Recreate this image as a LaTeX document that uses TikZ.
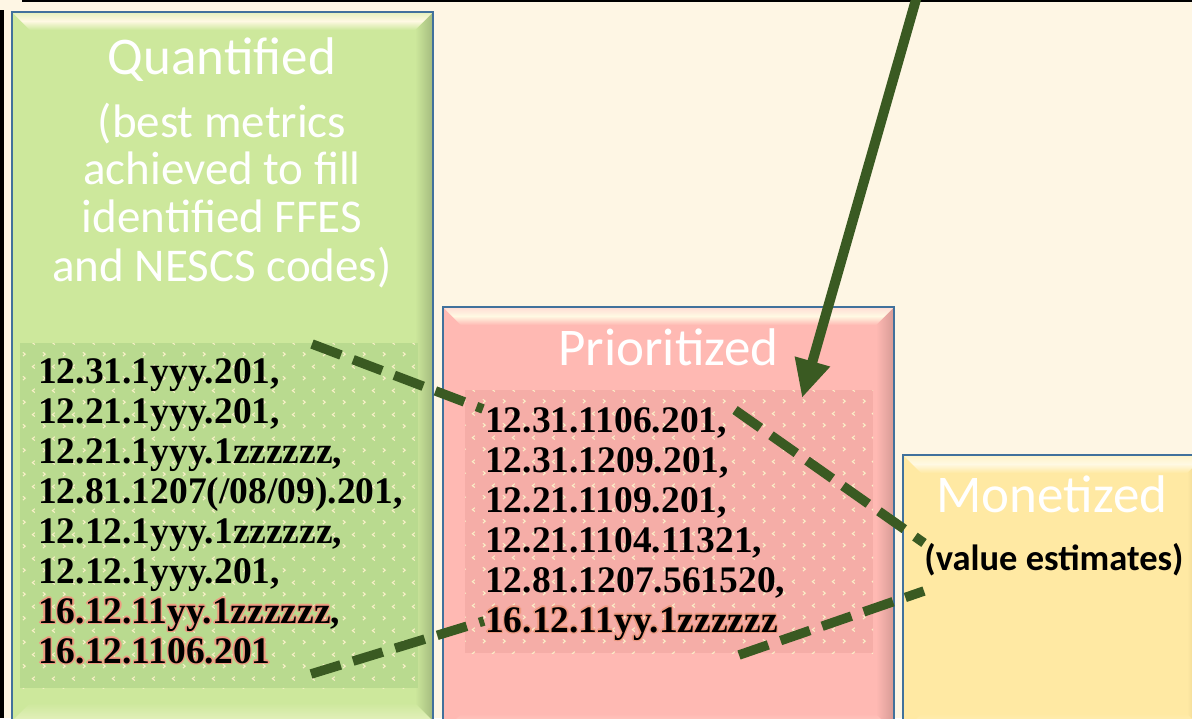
\documentclass[tikz,border=0pt]{standalone}
\usepackage{fontspec}
\setmainfont{Liberation Serif}
\newfontfamily\calfont{Carlito}
\usetikzlibrary{arrows.meta,patterns}

\definecolor{paper}{HTML}{FEF6E4}
\definecolor{frameblue}{HTML}{41719C}
\definecolor{leaf}{HTML}{3A5A22}
\definecolor{hilite}{HTML}{FFF9E3}
\definecolor{greenbody}{HTML}{CDE89C}
\definecolor{greendark}{HTML}{A3BA7E}
\definecolor{greentop}{HTML}{E4F0BC}
\definecolor{greeninner}{HTML}{B9DA8F}
\definecolor{pinkbody}{HTML}{FFB9B3}
\definecolor{pinkdark}{HTML}{D69A95}
\definecolor{pinktop}{HTML}{FFDCD4}
\definecolor{pinkinner}{HTML}{F5ADA7}
\definecolor{yellowbody}{HTML}{FFE9A3}
\definecolor{yellowdark}{HTML}{DCC68A}
\definecolor{yellowtop}{HTML}{FFF3C8}
\definecolor{dotcream}{HTML}{FAF0C8}
\definecolor{glowc}{HTML}{EE9A80}

% small chevron texture used on the code panels
\pgfdeclarepatternformonly{chevrons}{\pgfqpoint{0pt}{0pt}}{\pgfqpoint{20pt}{24pt}}{\pgfqpoint{20pt}{24pt}}{%
  \pgfsetlinewidth{1.1pt}%
  \pgfpathmoveto{\pgfqpoint{3pt}{3pt}}\pgfpathlineto{\pgfqpoint{5.5pt}{5pt}}\pgfpathlineto{\pgfqpoint{3pt}{7pt}}%
  \pgfpathmoveto{\pgfqpoint{15.5pt}{15pt}}\pgfpathlineto{\pgfqpoint{13pt}{17pt}}\pgfpathlineto{\pgfqpoint{15.5pt}{19pt}}%
  \pgfusepath{stroke}}

% text with a soft coloured halo
\newcommand\glowtext[1]{\leavevmode\rlap{\color{glowc}%
  \rlap{\kern1.3pt#1}\rlap{\kern-1.3pt#1}\rlap{\raisebox{1.3pt}{#1}}\rlap{\raisebox{-1.3pt}{#1}}%
  \rlap{\kern1pt\raisebox{1pt}{#1}}\rlap{\kern-1pt\raisebox{1pt}{#1}}%
  \rlap{\kern1pt\raisebox{-1pt}{#1}}\rlap{\kern-1pt\raisebox{-1pt}{#1}}}#1}

% bevelled panel: x1 y1 x2 y2 body dark top
\newcommand\panelbox[7]{%
  \fill[#5] (#1,#2) rectangle (#3,#4);
  \shade[left color=#5, right color=#6] (#3,#2) -- (#3,#4) -- ({#3-18},{#4-18}) -- ({#3-18},{#2+18}) -- cycle;
  \shade[top color=#7, bottom color=#5, middle color=hilite] (#1,#2) -- (#3,#2) -- ({#3-18},{#2+18}) -- ({#1+18},{#2+18}) -- cycle;
  \shade[top color=#5, bottom color=#7] ({#1+18},{#4-18}) -- ({#3-18},{#4-18}) -- (#3,#4) -- (#1,#4) -- cycle;
  \draw[frame] (#1,#2) rectangle (#3,#4);}

\tikzset{
  frame/.style={draw=frameblue, line width=2.4pt},
  title/.style={font=\calfont\fontsize{53}{60}\selectfont, text=white, inner sep=0pt, anchor=base},
  subtitle/.style={font=\calfont\fontsize{47}{47.7}\selectfont, text=white, inner sep=0pt, anchor=base},
  note/.style={font=\calfont\bfseries\fontsize{36.5}{40}\selectfont, text=black, inner sep=0pt, anchor=base},
  codes/.style={font=\bfseries\fontsize{37.5}{40}\selectfont, text=black, inner sep=0pt, anchor=base west},
  texture/.style={pattern=chevrons, pattern color=dotcream},
  link/.style={draw=leaf, line width=9.5pt, dash pattern=on 31pt off 13pt},
  pointer/.style={draw=leaf, line width=10pt, -{Triangle[length=38pt,width=34pt]}}
}

\begin{document}
\begin{tikzpicture}[x=1pt,y=-1pt]
\useasboundingbox (0,0) rectangle (1192,718);
\fill[paper] (0,0) rectangle (1192,718);
\fill[black] (0,10) rectangle (4,718);
\fill[black] (22,0) rectangle (1192,2.2);

% panels
\panelbox{12}{12}{433}{721}{greenbody}{greendark}{greentop}
\panelbox{443}{307}{894}{732}{pinkbody}{pinkdark}{pinktop}
\panelbox{903}{455}{1205}{732}{yellowbody}{yellowdark}{yellowtop}

% textured code areas
\fill[greeninner] (20,343) rectangle (418,688);
\fill[texture] (20,343) rectangle (418,688);
\fill[pinkinner] (465,390) rectangle (873,653);
\fill[texture] (465,390) rectangle (873,653);

% headings
\node[title] (quant) at (222,74) {Quantified};
\node[subtitle] (quantsub) at (222,137) {\begin{tabular}[t]{@{}c@{}}(best metrics\\achieved to fill\\identified FFES\\and NESCS codes)\end{tabular}};
\node[title] (prio) at (668.5,365) {Prioritized};
\node[title] (mone) at (1052,512) {Monetized};
\node[note] (value) at (1054,570) {(value estimates)};

% code lists
\node[codes] (qcodes) at (38,383) {\begin{tabular}[t]{@{}l@{}}
12.31.1yyy.201,\\
12.21.1yyy.201,\\
12.21.1yyy.1zzzzzz,\\
12.81.1207(/08/09).201,\\
12.12.1yyy.1zzzzzz,\\
12.12.1yyy.201,\\
\glowtext{16.12.11yy.1zzzzzz},\\
\glowtext{16.12.1106.201}
\end{tabular}};
\node[codes] (pcodes) at (485,432) {\begin{tabular}[t]{@{}l@{}}
12.31.1106.201,\\
12.31.1209.201,\\
12.21.1109.201,\\
12.21.1104.11321,\\
12.81.1207.561520,\\
\glowtext{16.12.11yy.1zzzzzz}
\end{tabular}};

% connector end points
\coordinate (qtop) at (312,344);
\coordinate (ptopin) at (483,409);
\coordinate (ptopout) at (735,410);
\coordinate (mtop) at (924,543);
\coordinate (qbot) at (311,674);
\coordinate (pbotin) at (484,621);
\coordinate (pbotout) at (739,655);
\coordinate (mbot) at (924,591);
\coordinate (feed) at (917,-4);
\coordinate (feedtip) at (802,398);

\draw[link] (qtop) -- (ptopin);
\draw[link] (ptopout) -- (mtop);
\draw[link] (qbot) -- (pbotin);
\draw[link] (pbotout) -- (mbot);
\draw[pointer] (feed) -- (feedtip);
\end{tikzpicture}
\end{document}
